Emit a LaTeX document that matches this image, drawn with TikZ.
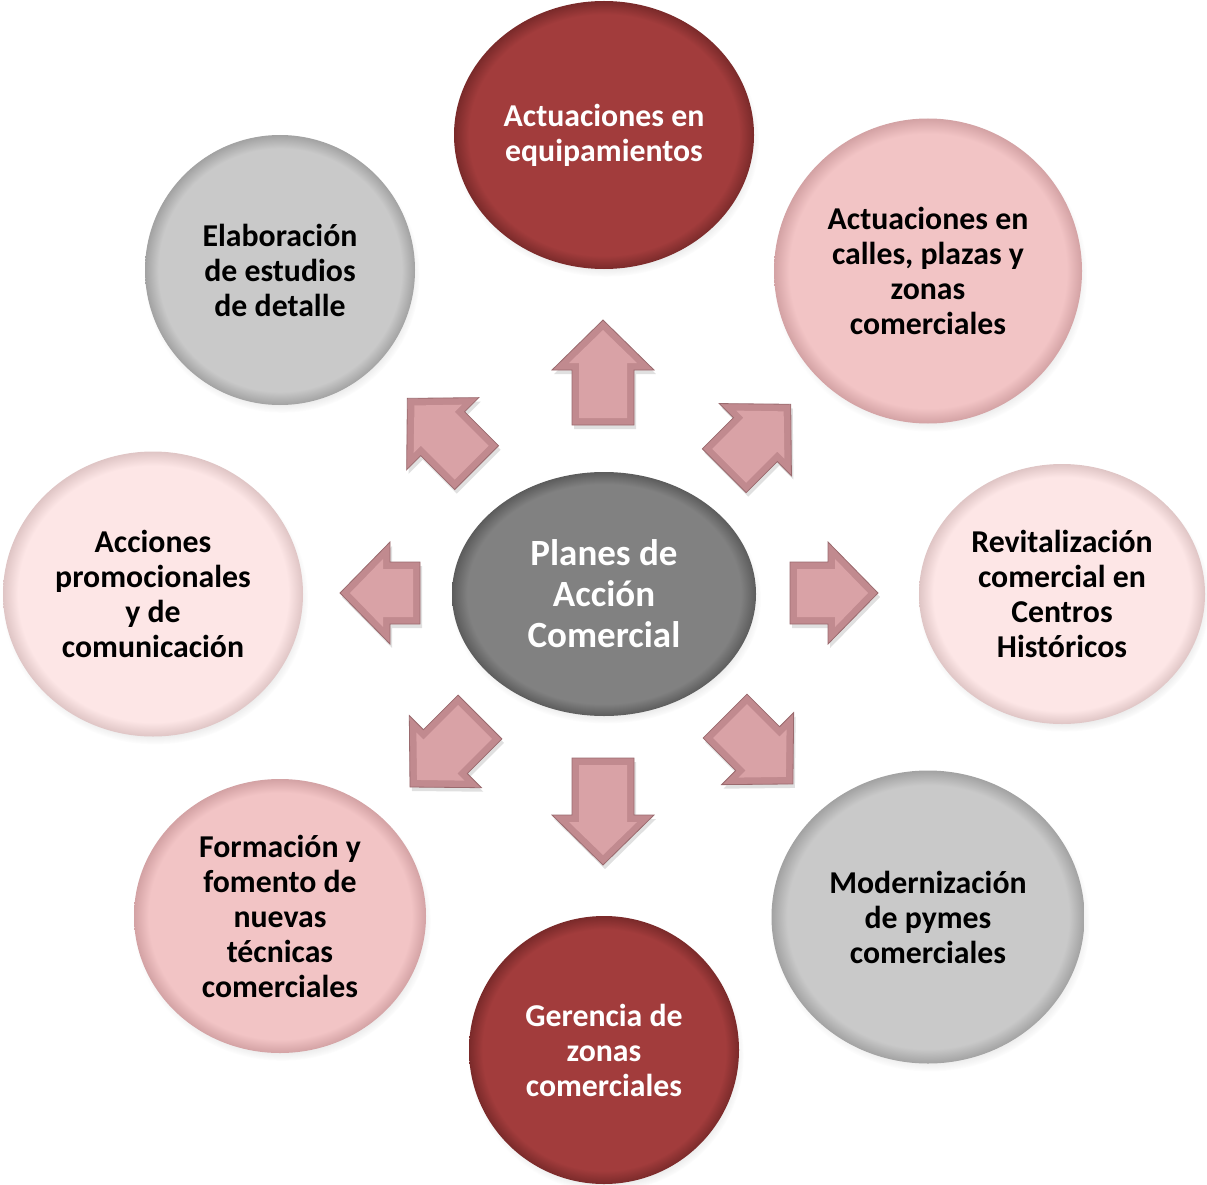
\documentclass[tikz,border=0pt]{standalone}
\usepackage{fontspec}
\setmainfont{Carlito}
\usetikzlibrary{shapes.geometric,shadows,fadings}
\definecolor{dred}{HTML}{A23C3C}
\definecolor{dredrim}{HTML}{7A2A2A}
\definecolor{pinkb}{HTML}{F2C4C5}
\definecolor{pinkbrim}{HTML}{D3A2A4}
\definecolor{lpink}{HTML}{FDE6E6}
\definecolor{lpinkrim}{HTML}{DFC5C5}
\definecolor{lgray}{HTML}{C9C9C9}
\definecolor{lgrayrim}{HTML}{A2A2A2}
\definecolor{cgray}{HTML}{818181}
\definecolor{cgrayrim}{HTML}{5C5C5C}
\definecolor{arrface}{HTML}{D9A2A6}
\definecolor{arredge}{HTML}{C18A8F}
\definecolor{arrline}{HTML}{9A6A6E}
\pgfdeclareradialshading{rimdred}{\pgfpoint{0bp}{0bp}}{color(0bp)=(dred);color(22.5bp)=(dred);color(25bp)=(dredrim);color(50bp)=(dredrim)}
\pgfdeclareradialshading{rimpink}{\pgfpoint{0bp}{0bp}}{color(0bp)=(pinkb);color(22.5bp)=(pinkb);color(25bp)=(pinkbrim);color(50bp)=(pinkbrim)}
\pgfdeclareradialshading{rimlpink}{\pgfpoint{0bp}{0bp}}{color(0bp)=(lpink);color(22.5bp)=(lpink);color(25bp)=(lpinkrim);color(50bp)=(lpinkrim)}
\pgfdeclareradialshading{rimlgray}{\pgfpoint{0bp}{0bp}}{color(0bp)=(lgray);color(22.5bp)=(lgray);color(25bp)=(lgrayrim);color(50bp)=(lgrayrim)}
\pgfdeclareradialshading{rimcgray}{\pgfpoint{0bp}{0bp}}{color(0bp)=(cgray);color(22.5bp)=(cgray);color(25bp)=(cgrayrim);color(50bp)=(cgrayrim)}
\newcommand\blockarr[4]{%
  \begin{scope}[shift={(#1+2,#2+4)},rotate=#3]
    \fill[black,opacity=.12]
      ({-#4/2},-31) -- ({#4/2-50},-31) -- ({#4/2-50},-51) -- ({#4/2},0) --
      ({#4/2-50},51) -- ({#4/2-50},31) -- ({-#4/2},31) -- cycle;
  \end{scope}
  \begin{scope}[shift={(#1,#2)},rotate=#3]
    \filldraw[fill=arredge,draw=arrline,line width=.8pt,line join=miter]
      ({-#4/2},-31) -- ({#4/2-50},-31) -- ({#4/2-50},-51) -- ({#4/2},0) --
      ({#4/2-50},51) -- ({#4/2-50},31) -- ({-#4/2},31) -- cycle;
    \fill[arrface]
      ({-#4/2+7},-24) -- ({#4/2-43},-24) -- ({#4/2-43},-34) -- ({#4/2-10},0) --
      ({#4/2-43},34) -- ({#4/2-43},24) -- ({-#4/2+7},24) -- cycle;
  \end{scope}}
\tikzset{
  bub/.style={ellipse,inner sep=0pt,align=center,
    font={\fontsize{31.8}{35}\selectfont\bfseries},
    circular drop shadow={shadow xshift=2pt,shadow yshift=-5pt,shadow scale=1.02,opacity=.35}},
  reddish/.style={bub,shading=rimdred,text=white},
  pinkish/.style={bub,shading=rimpink,text=black},
  lpinkish/.style={bub,shading=rimlpink,text=black},
  grayish/.style={bub,shading=rimlgray,text=black},
}
\begin{document}
\begin{tikzpicture}[x=1pt,y=-1pt]
\useasboundingbox (0,0) rectangle (1207,1185);
\node[reddish,minimum width=300pt,minimum height=268pt] (top) at (604,135)
  {Actuaciones en\\equipamientos};
\node[pinkish,minimum width=308pt,minimum height=305pt] (tr) at (928,271)
  {Actuaciones en\\calles, plazas y\\zonas\\comerciales};
\node[lpinkish,minimum width=286pt,minimum height=260pt] (r) at (1062,594)
  {Revitalización\\comercial en\\Centros\\Históricos};
\node[grayish,minimum width=313pt,minimum height=293pt] (br) at (928,917)
  {Modernización\\de pymes\\comerciales};
\node[reddish,minimum width=270pt,minimum height=268pt] (b) at (604,1050)
  {Gerencia de\\zonas\\comerciales};
\node[pinkish,minimum width=292pt,minimum height=274pt] (bl) at (280,916)
  {Formación y\\fomento de\\nuevas\\técnicas\\comerciales};
\node[lpinkish,minimum width=300pt,minimum height=285pt] (l) at (153,594)
  {Acciones\\promocionales\\y de\\comunicación};
\node[grayish,minimum width=270pt,minimum height=270pt] (tl) at (280,270)
  {Elaboración\\de estudios\\de detalle};
\node[bub,shading=rimcgray,text=white,minimum width=304pt,minimum height=244pt,
  font={\fontsize{37}{41}\selectfont\bfseries}] (c) at (604,594)
  {Planes de\\Acción\\Comercial};
\blockarr{603}{372.5}{90}{105}
\blockarr{603}{811.5}{-90}{107}
\blockarr{834}{593}{0}{88}
\blockarr{380}{593}{180}{80}
\blockarr{757.5}{437.5}{45}{94}
\blockarr{442}{433}{135}{98}
\blockarr{445}{752}{-135}{99}
\blockarr{759}{750}{-45}{96}
\end{tikzpicture}
\end{document}
